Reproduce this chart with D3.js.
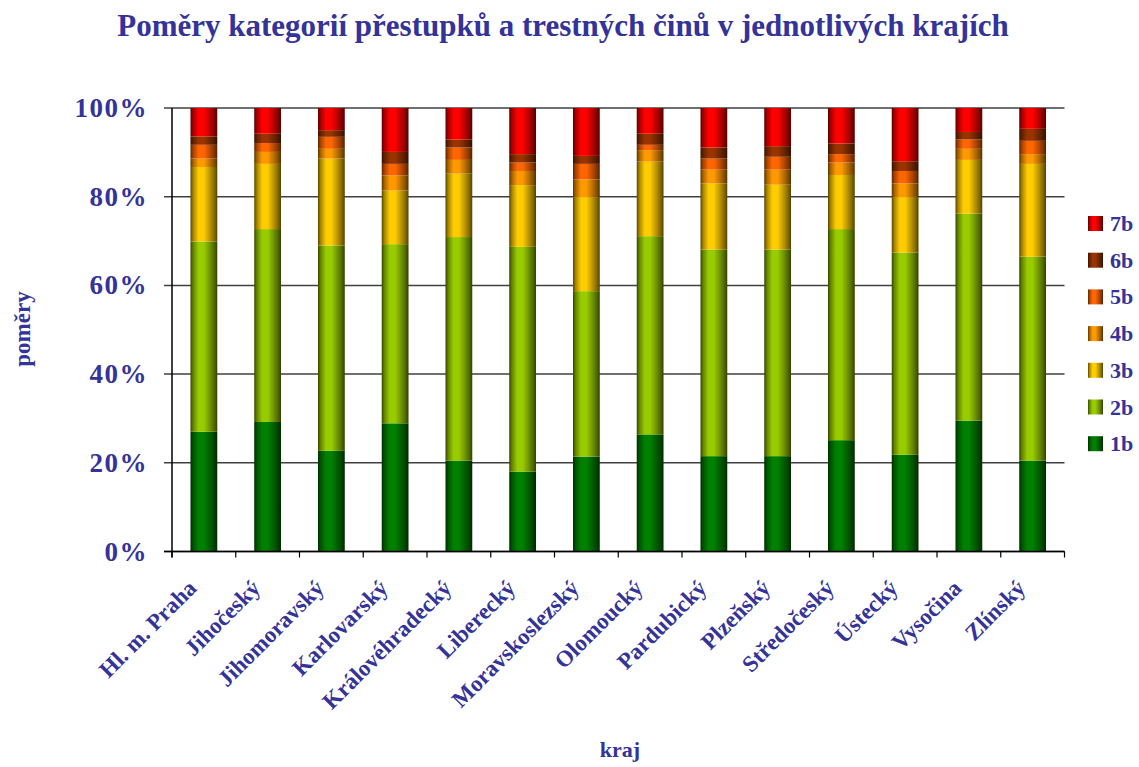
<!DOCTYPE html>
<html><head><meta charset="utf-8">
<script src="https://cdn.jsdelivr.net/npm/d3@7"></script>
<style>
html,body{margin:0;padding:0;background:#fff;}
text{font-family:"Liberation Serif","Times New Roman",serif;font-weight:bold;fill:#333399;}
</style></head>
<body><svg id="c" width="1139" height="767"></svg>
<script>
const categories = ["Hl. m. Praha","Jihočeský","Jihomoravský","Karlovarský","Královéhradecký","Liberecký","Moravskoslezský","Olomoucký","Pardubický","Plzeňský","Středočeský","Ústecký","Vysočina","Zlínský"];
const seriesNames = ["1b","2b","3b","4b","5b","6b","7b"];
const s1b = [27.0,29.2,22.7,28.9,20.5,18.0,21.4,26.4,21.5,21.5,25.1,21.8,29.5,20.5];
const s2b = [42.9,43.5,46.3,40.4,50.4,50.7,37.3,44.7,46.6,46.6,47.6,45.6,46.7,46.0];
const s3b = [16.8,14.7,19.6,12.1,14.3,13.9,21.2,16.8,14.9,14.6,12.2,12.5,12.1,20.9];
const s4b = [1.9,2.7,2.2,3.4,3.1,3.2,4.0,2.6,3.1,3.4,2.8,3.1,2.5,2.2];
const s5b = [3.1,2.0,2.7,2.6,2.8,1.9,3.5,1.2,2.5,2.9,1.9,2.8,2.1,3.0];
const s6b = [1.9,2.1,1.5,2.7,1.8,1.9,1.8,2.5,2.5,2.4,2.4,2.2,1.7,2.7];
const s7b = [6.4,5.8,5.0,9.9,7.1,10.4,10.8,5.8,8.9,8.6,8.0,12.0,5.4,4.7];
const colors = ["#008000","#99CC00","#FFCC00","#FF9900","#FF6600","#993300","#FF0000"];
const yTicks = [0,0.2,0.4,0.6,0.8,1.0];

const seriesValues = [s1b,s2b,s3b,s4b,s5b,s6b,s7b];
const rows = categories.map((c,i)=>{const r={cat:c};seriesNames.forEach((s,j)=>r[s]=seriesValues[j][i]);return r;});
const stacked = d3.stack().keys(seriesNames).offset(d3.stackOffsetExpand)(rows);

const svg = d3.select("#c");
const pLeft=172, pRight=1064.5, pTop=108, pBottom=551.5;
const x = d3.scaleBand().domain(categories).range([pLeft,pRight]).paddingInner(0.58).paddingOuter(0.29);
const y = d3.scaleLinear().domain([0,1]).range([pBottom,pTop]);

// gradients
const defs = svg.append("defs");
colors.forEach((c,i)=>{
  const g = defs.append("linearGradient").attr("id","g"+i).attr("x1","0").attr("x2","1").attr("y1","0").attr("y2","0");
  const base = d3.rgb(c);
  const stops = [[0,0.35],[0.1,0.65],[0.3,1.0],[0.5,1.0],[0.75,0.7],[0.9,0.5],[1,0.32]];
  stops.forEach(([o,k])=>{
    const col = d3.rgb(base.r*k, base.g*k, base.b*k);
    g.append("stop").attr("offset",o).attr("stop-color",col.formatHex());
  });
});

// gridlines
svg.append("g").selectAll("line").data(yTicks).join("line")
  .attr("x1",pLeft-8).attr("x2",pRight).attr("y1",d=>y(d)).attr("y2",d=>y(d))
  .attr("stroke","#404040").attr("stroke-width",1.5);

// bars
svg.append("g").selectAll("g").data(stacked).join("g")
  .attr("fill",(d,i)=>`url(#g${i})`)
  .selectAll("rect").data(d=>d).join("rect")
  .attr("x",d=>x(d.data.cat)).attr("width",x.bandwidth())
  .attr("y",d=>y(d[1])).attr("height",d=>y(d[0])-y(d[1]));

// axes lines
svg.append("line").attr("x1",pLeft).attr("x2",pLeft).attr("y1",pTop).attr("y2",pBottom+6).attr("stroke","#000").attr("stroke-width",1.5);
svg.append("line").attr("x1",pLeft-8).attr("x2",pRight).attr("y1",pBottom).attr("y2",pBottom).attr("stroke","#000").attr("stroke-width",1.5);
const step = x.step();
const bounds = categories.map(c=>x(c)-(step-x.bandwidth())/2).concat([pRight]);
svg.append("g").selectAll("line").data(bounds).join("line")
  .attr("x1",d=>d).attr("x2",d=>d).attr("y1",pBottom).attr("y2",pBottom+6)
  .attr("stroke","#000").attr("stroke-width",1.2);

// y tick labels
svg.append("g").selectAll("text").data(yTicks).join("text")
  .attr("x",pLeft-24).attr("y",d=>y(d)+9).attr("text-anchor","end")
  .style("font-size","27px").style("letter-spacing","1.5px").text(d=>Math.round(d*100)+"%");

// x labels
svg.append("g").selectAll("text").data(categories).join("text")
  .attr("text-anchor","end").style("font-size","23px")
  .attr("transform",c=>`translate(${x(c)+x.bandwidth()/2-6},${pBottom+38}) rotate(-45)`)
  .text(c=>c);

// titles
svg.append("text").attr("x",563).attr("y",36).attr("text-anchor","middle").style("font-size","31px")
  .text("Poměry kategorií přestupků a trestných činů v jednotlivých krajích");
svg.append("text").attr("transform","translate(30,329) rotate(-90)").attr("text-anchor","middle").style("font-size","23px").text("poměry");
svg.append("text").attr("x",620).attr("y",757).attr("text-anchor","middle").style("font-size","22px").text("kraj");

// legend
const legOrder = seriesNames.map((s,i)=>i).reverse();
const lg = svg.append("g").selectAll("g").data(legOrder).join("g")
  .attr("transform",(d,k)=>`translate(1088,${223+k*36.7})`);
lg.append("rect").attr("x",0).attr("y",-7).attr("width",15).attr("height",15).attr("fill",d=>`url(#g${d})`);
lg.append("text").attr("x",22).attr("y",8).style("font-size","22px").text(d=>seriesNames[d]);
</script></body></html>
